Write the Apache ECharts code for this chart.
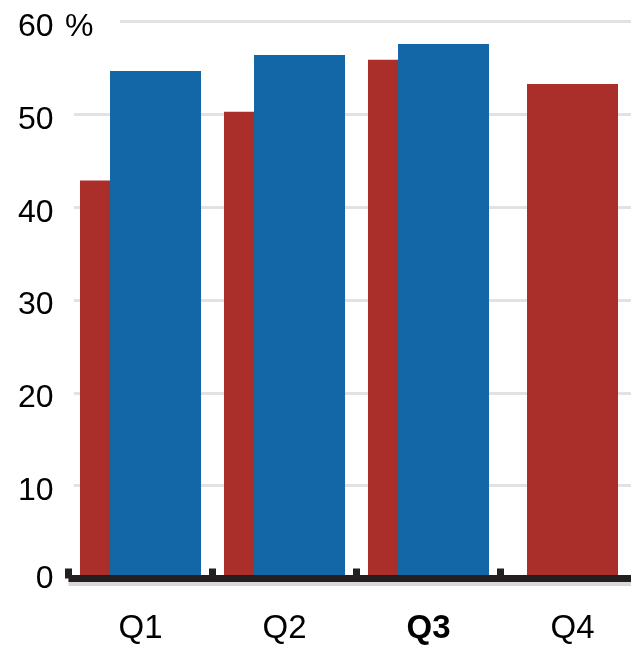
<!DOCTYPE html>
<html>
<head>
<meta charset="utf-8">
<script src="https://cdn.jsdelivr.net/npm/echarts@6/dist/echarts.min.js"></script>
<style>
html,body{margin:0;padding:0;background:#fff;}
#chart{width:631px;height:646px;}
</style>
</head>
<body>
<div id="chart"></div>
<script>
// ---- data ----
const categories = ['Q1', 'Q2', 'Q3', 'Q4'];
const redValues  = [42.9, 50.3, 55.9, 53.3];
const blueValues = [54.7, 56.4, 57.6, null];
const highlightCategory = 'Q3';
const yTicks = [0, 10, 20, 30, 40, 50, 60];
const yUnit = '%';

// ---- derived series data ----
const redPaired = redValues.map((v, i) => blueValues[i] == null ? null : v);
const redSolo   = redValues.map((v, i) => blueValues[i] == null ? v : null);

const RED = '#aa2e2a';
const BLUE = '#1467a6';
const FONT = 'Liberation Sans, Arial, sans-serif';
const FSY = 32, FSX = 33;
const yMin = yTicks[0], yMax = yTicks[yTicks.length - 1], yStep = yTicks[1] - yTicks[0];
const GRID_TOP = 21.7, GRID_BOTTOM = 67.5;

const chart = echarts.init(document.getElementById('chart'), null, {renderer: 'canvas'});
chart.setOption({
  animation: false,
  backgroundColor: '#fff',
  textStyle: {fontFamily: FONT},
  grid: [
    {left: 68.5, right: -13.5, top: GRID_TOP, bottom: GRID_BOTTOM, containLabel: false, outerBoundsMode: 'none'},
    {left: 74, right: 0, top: GRID_TOP, bottom: GRID_BOTTOM, containLabel: false, outerBoundsMode: 'none'},
    {left: 120, right: 0, top: GRID_TOP, bottom: GRID_BOTTOM, containLabel: false, outerBoundsMode: 'none'}
  ],
  xAxis: [
    {
      type: 'category', gridIndex: 0, data: categories, z: 5,
      axisLine: {show: true, lineStyle: {color: '#231f1e', width: 7, cap: 'butt',
        shadowColor: '#d8d8d8', shadowOffsetY: 4, shadowBlur: 0}},
      axisTick: {show: true, inside: true, length: 10, lineStyle: {color: '#231f1e', width: 7}},
      axisLabel: {
        margin: 34, fontSize: FSX, color: '#000', fontFamily: FONT,
        formatter: v => v === highlightCategory ? '{b|' + v + '}' : v,
        rich: {b: {fontSize: FSX, fontWeight: 'bold', color: '#000', fontFamily: FONT}}
      },
      splitLine: {show: false}
    },
    {type: 'category', gridIndex: 0, data: categories, show: false},
    {type: 'value', gridIndex: 1, show: false},
    {type: 'value', gridIndex: 2, show: false}
  ],
  yAxis: [
    {
      type: 'value', gridIndex: 0, position: 'left', min: yMin, max: yMax, interval: yStep,
      axisLine: {show: false}, axisTick: {show: false}, splitLine: {show: false},
      axisLabel: {
        margin: 15, align: 'right', verticalAlign: 'top', lineHeight: 11,
        fontSize: FSY, color: '#000', fontFamily: FONT,
        formatter: v => v === 0 ? '{z|0}' : '' + v,
        rich: {z: {fontSize: FSY, color: '#000', fontFamily: FONT, lineHeight: 1}}
      }
    },
    {
      type: 'value', gridIndex: 1, position: 'left', min: yMin, max: yMax, interval: yStep,
      axisLine: {show: false}, axisTick: {show: false}, axisLabel: {show: false},
      splitLine: {show: true, showMaxLine: false, lineStyle: {color: '#e2e2e2', width: 3}}
    },
    {
      type: 'value', gridIndex: 2, position: 'left', min: yMin, max: yMax, interval: yMax - yMin,
      axisLine: {show: false}, axisTick: {show: false}, axisLabel: {show: false},
      splitLine: {show: true, showMinLine: false, lineStyle: {color: '#e2e2e2', width: 3}}
    },
    {
      type: 'value', gridIndex: 0, position: 'left', offset: 0, min: yMin, max: yMax, interval: yStep,
      axisLine: {show: false}, axisTick: {show: false}, splitLine: {show: false},
      axisLabel: {
        margin: 3.5, align: 'left', verticalAlign: 'top', lineHeight: 11,
        fontSize: FSY, color: '#000', fontFamily: FONT,
        formatter: v => v === yMax ? yUnit : ''
      }
    }
  ],
  series: [
    {
      type: 'bar', xAxisIndex: 0, yAxisIndex: 0, data: redPaired,
      barWidth: 91, barGap: '-67%', itemStyle: {color: RED}, z: 2
    },
    {
      type: 'bar', xAxisIndex: 0, yAxisIndex: 0, data: blueValues,
      barWidth: 91, barGap: '-67%', itemStyle: {color: BLUE}, z: 2
    },
    {
      type: 'bar', xAxisIndex: 1, yAxisIndex: 0, data: redSolo,
      barWidth: 91, itemStyle: {color: RED}, z: 2
    }
  ]
});
</script>
</body>
</html>
